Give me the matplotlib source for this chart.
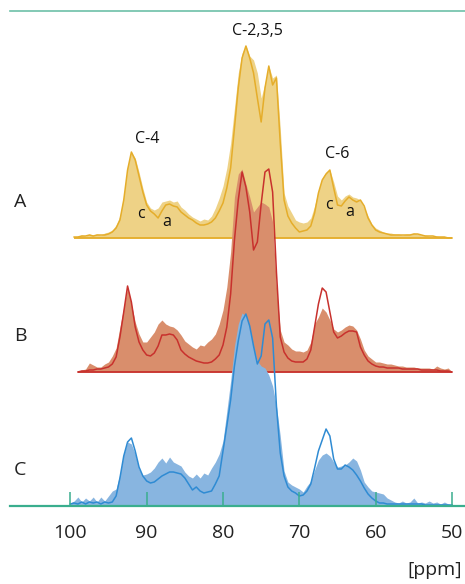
import numpy as np
import matplotlib
matplotlib.use("Agg")
import matplotlib.pyplot as plt

plt.rcParams['font.family'] = ['Open Sans', 'DejaVu Sans']

# chemical shift grid (ppm), 100 -> 50 in 0.5 ppm steps
ppm = np.arange(100.0, 49.75, -0.5)

# ---- spectrum A (intensity, arbitrary units) ----
A_line = [0, 1, 1, 2, 2, 3, 2, 3, 3, 3,
          4, 6, 10, 18, 38, 68, 86, 78, 62, 46,
          33, 27, 24, 20, 27, 33, 34, 32, 31, 26,
          23, 20, 18, 15, 13, 13, 14, 16, 20, 27,
          35, 50, 70, 110, 150, 180, 192, 180, 165, 140,
          116, 150, 172, 153, 160, 95, 38, 22, 15, 10,
          6, 7, 8, 12, 25, 45, 58, 64, 68, 50,
          33, 32, 37, 41, 38, 36, 38, 32, 20, 13,
          8, 6, 5, 4, 3, 3, 3, 3, 3, 3,
          4, 4, 3, 2, 2, 2, 1, 1, 1, 0, 0]
A_fill = [0, 1, 2, 3, 2, 4, 3, 4, 3, 5,
          6, 8, 13, 22, 42, 72, 86, 80, 66, 50,
          36, 30, 28, 30, 36, 37, 38, 36, 37, 31,
          28, 24, 21, 19, 17, 19, 18, 22, 30, 40,
          52, 70, 95, 130, 165, 185, 193, 182, 178, 165,
          140, 155, 172, 160, 163, 110, 45, 32, 25, 18,
          16, 15, 16, 20, 32, 48, 60, 66, 68, 56,
          42, 38, 42, 44, 41, 40, 38, 30, 22, 14,
          10, 8, 6, 5, 5, 4, 4, 3, 4, 4,
          5, 4, 3, 3, 2, 2, 2, 1, 1, 1, 0]

# ---- spectrum B ----
B_line = [0, 0, 0, 1, 1, 2, 2, 3, 3, 4,
          5, 8, 15, 35, 60, 86, 70, 45, 30, 22,
          17, 16, 19, 26, 37, 37, 38, 37, 32, 22,
          18, 15, 13, 11, 10, 9, 9, 10, 13, 17,
          27, 45, 78, 132, 172, 200, 185, 160, 122, 130,
          168, 200, 203, 180, 100, 35, 20, 14, 11, 10,
          10, 10, 13, 22, 45, 68, 84, 80, 60, 40,
          34, 36, 39, 41, 41, 40, 25, 17, 11, 8,
          6, 5, 5, 4, 4, 4, 4, 3, 3, 3,
          3, 3, 2, 2, 2, 2, 2, 1, 1, 1, 0]
B_fill = [0, 0, 1, 2, 3, 9, 7, 5, 5, 8,
          10, 16, 24, 45, 65, 85, 68, 50, 38, 30,
          30, 35, 40, 48, 52, 48, 46, 45, 42, 37,
          31, 28, 25, 23, 27, 26, 30, 33, 38, 48,
          62, 85, 120, 175, 198, 203, 188, 175, 160, 165,
          170, 168, 165, 150, 85, 42, 30, 27, 23, 21,
          21, 20, 22, 30, 48, 55, 64, 60, 52, 43,
          40, 42, 45, 47, 46, 42, 33, 22, 16, 13,
          10, 10, 9, 8, 8, 7, 6, 6, 5, 5,
          5, 4, 4, 4, 4, 3, 6, 4, 3, 4, 0]

# ---- spectrum C ----
C_line = [2, 3, 2, 4, 2, 4, 3, 4, 2, 4,
          3, 4, 10, 28, 50, 64, 68, 55, 39, 30,
          25, 23, 24, 27, 30, 32, 34, 34, 33, 32,
          28, 22, 16, 19, 15, 13, 14, 15, 22, 30,
          55, 80, 106, 140, 165, 185, 192, 180, 160, 142,
          150, 182, 186, 168, 100, 53, 30, 19, 15, 13,
          10, 11, 15, 22, 38, 55, 66, 77, 70, 47,
          37, 37, 41, 39, 36, 31, 25, 18, 12, 8,
          5, 3, 3, 2, 2, 2, 2, 2, 2, 2,
          2, 2, 2, 1, 1, 1, 1, 1, 1, 1, 1]
C_fill = [3, 5, 9, 4, 8, 5, 9, 4, 9, 5,
          10, 15, 17, 32, 52, 64, 62, 52, 37, 31,
          32, 34, 38, 44, 48, 43, 49, 44, 42, 40,
          34, 30, 28, 32, 28, 33, 31, 38, 44, 52,
          65, 95, 125, 160, 182, 193, 190, 178, 160, 145,
          140, 138, 131, 120, 100, 70, 35, 24, 21, 19,
          17, 14, 20, 25, 36, 46, 51, 53, 50, 44,
          39, 40, 41, 44, 48, 45, 36, 24, 19, 15,
          14, 13, 12, 8, 6, 4, 3, 5, 3, 4,
          8, 3, 4, 3, 5, 3, 4, 2, 4, 2, 1]

labels = ['A', 'B', 'C']
start_ppm = [99.5, 99.0, 100.0]
offsets = [268, 134, 0]
fill_colors = ['#EED286', '#D98E6C', '#88B5E0']
line_colors = ['#E5AD2A', '#C8312D', '#2F8BD3']

ticks = [100, 90, 80, 70, 60, 50]

annotations = [
    ('C-2,3,5', 75.5, 475), ('C-4', 89.9, 367), ('C-6', 65.1, 352),
    ('c', 90.8, 292), ('a', 87.4, 284), ('c', 66.1, 301), ('a', 63.4, 294),
]

fig = plt.figure(figsize=(4.65, 5.84), dpi=100)
ax = fig.add_axes([10 / 465, 78 / 584, 455 / 465, 495 / 584])

series = [(A_fill, A_line), (B_fill, B_line), (C_fill, C_line)]
z = 1.0
for (fv, lv), s, off, fc, lc in zip(series, start_ppm, offsets,
                                     fill_colors, line_colors):
    m = ppm <= s
    x = ppm[m]
    fv = np.asarray(fv, float)[m]
    lv = np.asarray(lv, float)[m]
    ax.fill_between(x, off, off + fv, color=fc, lw=0, zorder=z)
    ax.plot(x, off + lv, color=lc, lw=1.1, zorder=z + 0.1,
            solid_joinstyle='round')
    if off > 0:
        ax.plot([x[0], x[-1]], [off, off], color=lc, lw=1.3,
                zorder=z + 0.1, solid_capstyle='butt')
    z += 0.3

ax.set_xlim(107.9, 48.3)
ax.set_ylim(0, 495)

for side in ['left', 'right']:
    ax.spines[side].set_visible(False)
ax.spines['bottom'].set_color('#3AAE8E')
ax.spines['bottom'].set_linewidth(1.6)
ax.spines['top'].set_color('#6DC0A8')
ax.spines['top'].set_linewidth(1.2)
ax.set_axisbelow(False)

ax.set_yticks([])
ax.set_xticks(ticks)
ax.set_xticklabels([str(t) for t in ticks])
ax.tick_params(axis='x', direction='in', length=10, width=1.1,
               color='#3AAE8E', pad=13, labelsize=14, labelcolor='#222222')

for txt, x, y in annotations:
    ax.text(x, y, txt, ha='center', va='center', fontsize=11.5, color='#111111')

for lab, off in zip(labels, offsets):
    ax.text(107.4, off + 36, lab, ha='left', va='center', fontsize=14,
            color='#222222')

fig.text(462 / 465, 14 / 584, '[ppm]', ha='right', va='center', fontsize=14,
         color='#222222')

fig.savefig('out.png', dpi=100)
